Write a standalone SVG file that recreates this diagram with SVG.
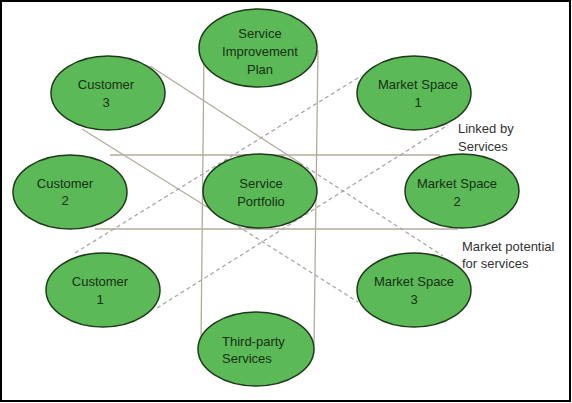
<svg xmlns="http://www.w3.org/2000/svg" width="572" height="403" viewBox="0 0 572 403">
<style>
.node ellipse{fill:#5cb957;stroke:#1f3a1a;stroke-width:1.5}
.node text{font-family:"Liberation Sans",Arial,sans-serif;font-size:13px;fill:#153015;text-anchor:middle}
.solid{stroke:#b3ab9e;stroke-width:1.3;fill:none}
.dash{stroke:#a8a8a8;stroke-width:1.3;stroke-dasharray:4 3;fill:none}
.label{font-family:"Liberation Sans",Arial,sans-serif;font-size:13px;fill:#333}
</style>
<rect x="1" y="1" width="569" height="400" fill="#fff" stroke="#000" stroke-width="2"/>
<g id="connectors">
<line class="solid" x1="204" y1="50" x2="201" y2="345"/>
<line class="solid" x1="318" y1="50" x2="314" y2="345"/>
<line class="solid" x1="110" y1="155" x2="440" y2="155"/>
<line class="solid" x1="95" y1="229" x2="458" y2="229"/>
<line class="solid" x1="150" y1="66" x2="300" y2="163"/>
<line class="dash" x1="300" y1="163" x2="443" y2="256"/>
<line class="solid" x1="82" y1="129" x2="220" y2="215"/>
<line class="dash" x1="220" y1="215" x2="358" y2="302"/>
<line class="dash" x1="75" y1="253" x2="361" y2="76"/>
<line class="dash" x1="157" y1="308" x2="448" y2="125"/>
</g>
<g id="service-improvement-plan" class="node">
<ellipse cx="258" cy="48" rx="59" ry="39"/>
<text x="260" y="38">Service</text>
<text x="260" y="56">Improvement</text>
<text x="260" y="74">Plan</text>
</g>
<g id="customer-3" class="node">
<ellipse cx="108" cy="93" rx="57" ry="37"/>
<text x="106" y="89">Customer</text>
<text x="106" y="107">3</text>
</g>
<g id="market-space-1" class="node">
<ellipse cx="414" cy="93" rx="57" ry="37"/>
<text x="418" y="89">Market Space</text>
<text x="418" y="107">1</text>
</g>
<g id="customer-2" class="node">
<ellipse cx="70" cy="192" rx="57" ry="37"/>
<text x="65" y="188">Customer</text>
<text x="65" y="205">2</text>
</g>
<g id="service-portfolio" class="node">
<ellipse cx="260" cy="191" rx="57" ry="37"/>
<text x="261" y="188">Service</text>
<text x="261" y="206">Portfolio</text>
</g>
<g id="market-space-2" class="node">
<ellipse cx="462" cy="191" rx="57" ry="37"/>
<text x="457" y="188">Market Space</text>
<text x="457" y="206">2</text>
</g>
<g id="customer-1" class="node">
<ellipse cx="103" cy="290" rx="57" ry="37"/>
<text x="100" y="286">Customer</text>
<text x="100" y="304">1</text>
</g>
<g id="market-space-3" class="node">
<ellipse cx="414" cy="290" rx="57" ry="37"/>
<text x="414" y="286">Market Space</text>
<text x="414" y="304">3</text>
</g>
<g id="third-party-services" class="node">
<ellipse cx="256" cy="349" rx="58" ry="37"/>
<text x="222" y="346" style="text-anchor:start">Third-party</text>
<text x="222" y="363" style="text-anchor:start">Services</text>
</g>
<text class="label" x="458" y="133">Linked by</text>
<text class="label" x="458" y="151">Services</text>
<text class="label" x="462" y="251">Market potential</text>
<text class="label" x="462" y="268">for services</text>
</svg>
